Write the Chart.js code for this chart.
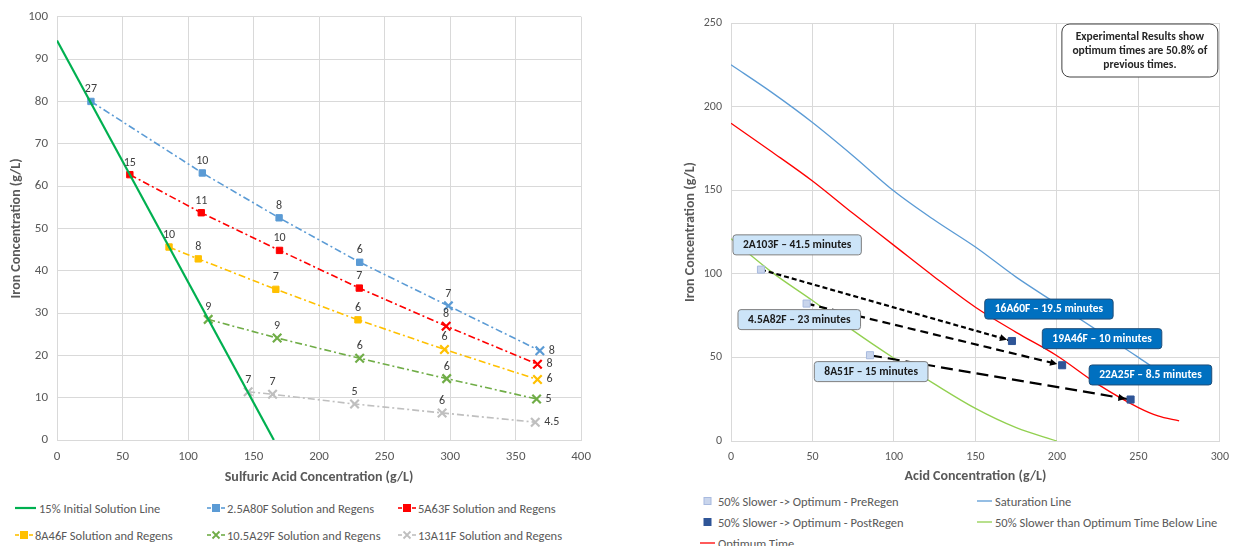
<!DOCTYPE html>
<html>
<head>
<meta charset="utf-8">
<script src="https://cdn.jsdelivr.net/npm/chart.js@4.4.1/dist/chart.umd.min.js"></script>
<style>
    body { margin: 0; background: #fff; width: 1238px; height: 546px; overflow: hidden; position: relative; font-family: Carlito, Lato, sans-serif; }
    .box { position: absolute; }
    .legend { position: absolute; left: 0; top: 0; font-size: 12.5px; color: #595959; }
    .legend .item { position: absolute; display: flex; align-items: center; white-space: nowrap; height: 16px; margin-top: -8px; }
    .legend svg { display: block; }
</style>
</head>
<body>
<div class="box" style="left:0;top:0;width:600px;height:492px"><canvas id="left_chart"></canvas></div>
<div class="box" style="left:680px;top:0;width:558px;height:492px"><canvas id="right_chart"></canvas></div>
<div id="left_legend" class="legend"></div>
<div id="right_legend" class="legend"></div>
<script>
    const FONT = 'Carlito, Lato, sans-serif';

    // ---- left chart data (sulfuric acid g/L vs iron g/L, labels = minutes) ----
    const init_x = [0, 165.5];
    const init_y = [94.4, 0];

    const a80_x = [25.9, 110.9, 169.5, 231, 298.7, 368.5];
    const a80_y = [80, 63.1, 52.5, 42.0, 31.7, 21.1];
    const a80_t = ['27', '10', '8', '6', '7', '8'];

    const a63_x = [55.6, 110.1, 169.8, 230.7, 297, 366.7];
    const a63_y = [62.7, 53.7, 44.8, 35.9, 26.9, 17.9];
    const a63_t = ['15', '11', '10', '7', '8', '8'];

    const a46_x = [85.5, 107.8, 167, 229.7, 295.7, 366.7];
    const a46_y = [45.6, 42.8, 35.6, 28.4, 21.4, 14.3];
    const a46_t = ['10', '8', '7', '6', '6', '6'];

    const a29_x = [115.4, 168, 231, 297.4, 366];
    const a29_y = [28.5, 24.1, 19.3, 14.5, 9.7];
    const a29_t = ['9', '9', '6', '6', '5'];

    const a11_x = [145.9, 164.5, 227.1, 293.9, 365];
    const a11_y = [11.4, 10.8, 8.5, 6.4, 4.2];
    const a11_t = ['7', '7', '5', '6', '4.5'];

    const left_x_ticks = [0, 50, 100, 150, 200, 250, 300, 350, 400];
    const left_y_ticks = [0, 10, 20, 30, 40, 50, 60, 70, 80, 90, 100];

    // ---- right chart data (acid g/L vs iron g/L) ----
    const sat_x = [0, 25, 50, 75, 100, 125, 150, 175, 200, 225, 250, 262];
    const sat_y = [225, 208.5, 190.5, 170.5, 149.5, 132, 116, 98, 82, 66, 50, 42];
    const opt_x = [0, 25, 50, 75, 100, 125, 150, 175, 200, 225, 250, 262, 275];
    const opt_y = [190, 173, 155.5, 136, 117, 98, 80, 65, 51, 34, 20, 15, 12];
    const slow_x = [0, 25, 50, 75, 100, 125, 150, 175, 200];
    const slow_y = [121, 101, 84, 66, 49.5, 34, 19.5, 8, 0];

    const pre_x = [18.4, 46.4, 85.3];
    const pre_y = [102.5, 82.2, 51.3];
    const post_x = [172.4, 203.2, 245.2];
    const post_y = [59.8, 45.3, 24.8];

    const pre_names = ['2A103F – 41.5 minutes', '4.5A82F – 23 minutes', '8A51F – 15 minutes'];
    const pre_name_x = [40.6, 41.9, 86.0];
    const pre_name_y = [117.3, 72.6, 41.5];
    const post_names = ['16A60F – 19.5 minutes', '19A46F – 10 minutes', '22A25F – 8.5 minutes'];
    const post_name_x = [195.1, 227.7, 257.4];
    const post_name_y = [78.9, 61.2, 39.5];

    const note_lines = ['Experimental Results show', 'optimum times are 50.8% of', 'previous times.'];

    const right_x_ticks = [0, 50, 100, 150, 200, 250, 300];
    const right_y_ticks = [0, 50, 100, 150, 200, 250];

    function xy(xs, ys) {
        return xs.map((x, i) => ({x: x, y: ys[i]}));
    }

    Chart.defaults.font.family = FONT;
    Chart.defaults.color = '#595959';

    function roundRect(ctx, x, y, w, h, r) {
        ctx.beginPath();
        ctx.moveTo(x + r, y);
        ctx.arcTo(x + w, y, x + w, y + h, r);
        ctx.arcTo(x + w, y + h, x, y + h, r);
        ctx.arcTo(x, y + h, x, y, r);
        ctx.arcTo(x, y, x + w, y, r);
        ctx.closePath();
    }

    // value labels next to the points of the left chart
    const pointLabelPlugin = {
        id: 'pointLabels',
        afterDatasetsDraw(chart) {
            const ctx = chart.ctx;
            ctx.save();
            ctx.font = '12px ' + FONT;
            ctx.fillStyle = '#404040';
            ctx.textBaseline = 'middle';
            chart.data.datasets.forEach((ds, i) => {
                if (!ds.pointLabels) return;
                const meta = chart.getDatasetMeta(i);
                meta.data.forEach((pt, j) => {
                    if (j === meta.data.length - 1) {
                        ctx.textAlign = 'left';
                        ctx.fillText(ds.pointLabels[j], pt.x + 9, pt.y);
                    } else {
                        ctx.textAlign = 'center';
                        ctx.fillText(ds.pointLabels[j], pt.x, pt.y - 12);
                    }
                });
            });
            ctx.restore();
        }
    };

    function dashSeries(label, xs, ys, tags, color, styles) {
        return {
            label: label,
            data: xy(xs, ys),
            pointLabels: tags,
            showLine: true,
            borderColor: color,
            backgroundColor: color,
            borderWidth: 1.6,
            borderDash: [7, 3, 2, 3],
            pointStyle: styles,
            pointRadius: styles.map(s => s === 'rect' ? 4.5 : 6),
            pointBorderWidth: styles.map(s => s === 'rect' ? 1 : 2.2),
            pointBorderColor: color,
            pointBackgroundColor: color,
            legendMarker: styles[0],
        };
    }

    const sq4x2 = ['rect', 'rect', 'rect', 'rect', 'crossRot', 'crossRot'];
    const allX = ['crossRot', 'crossRot', 'crossRot', 'crossRot', 'crossRot'];

    const left_datasets = [
        {
            label: '15% Initial Solution Line',
            data: xy(init_x, init_y),
            showLine: true,
            borderColor: '#00B050',
            borderWidth: 2.2,
            pointRadius: 0,
            legendMarker: null,
        },
        dashSeries('2.5A80F Solution and Regens', a80_x, a80_y, a80_t, '#5B9BD5', sq4x2),
        dashSeries('5A63F Solution and Regens', a63_x, a63_y, a63_t, '#FF0000', sq4x2),
        dashSeries('8A46F Solution and Regens', a46_x, a46_y, a46_t, '#FFC000', sq4x2),
        dashSeries('10.5A29F Solution and Regens', a29_x, a29_y, a29_t, '#70AD47', allX),
        dashSeries('13A11F Solution and Regens', a11_x, a11_y, a11_t, '#BFBFBF', allX),
    ];

    function axisOpts(ticks, titleText, size, titlePad, extra) {
        return Object.assign({
            type: 'linear',
            min: ticks[0],
            max: ticks[ticks.length - 1],
            afterBuildTicks: s => { s.ticks = ticks.map(v => ({value: v})); },
            grid: { color: '#D9D9D9', drawTicks: false, lineWidth: 1 },
            border: { color: '#D9D9D9' },
            ticks: { font: { size: size }, color: '#595959', padding: 9 },
            title: { display: true, text: titleText, color: '#595959', padding: titlePad, font: { size: 14, weight: 'bold' } },
        }, extra);
    }

    new Chart(document.getElementById('left_chart').getContext('2d'), {
        type: 'scatter',
        data: { datasets: left_datasets },
        options: {
            responsive: true,
            maintainAspectRatio: false,
            animation: false,
            layout: { padding: { top: 15, right: 18, left: 0, bottom: 0 } },
            plugins: { legend: { display: false }, tooltip: { enabled: false } },
            scales: {
                x: axisOpts(left_x_ticks, 'Sulfuric Acid Concentration (g/L)', 13, {top: 0, bottom: 6}, {
                    afterFit: s => { s.height = 52; },
                }),
                y: axisOpts(left_y_ticks, 'Iron Concentration (g/L)', 13, {top: 8.5, bottom: 0}, {
                    afterFit: s => { s.width = 57; },
                }),
            },
        },
        plugins: [pointLabelPlugin],
    });

    // ---- right chart ----
    const arrowDash = [[5, 3], [8, 5], [12, 6]];

    const arrowPlugin = {
        id: 'arrowHeads',
        afterDatasetDraw(chart, args) {
            const ds = chart.data.datasets[args.index];
            if (!ds.isArrow) return;
            const pts = args.meta.data;
            const a = pts[0], b = pts[pts.length - 1];
            const ang = Math.atan2(b.y - a.y, b.x - a.x);
            const tx = b.x - Math.cos(ang) * 5, ty = b.y - Math.sin(ang) * 5;
            const ctx = chart.ctx;
            ctx.save();
            ctx.fillStyle = '#000';
            ctx.beginPath();
            ctx.moveTo(tx, ty);
            ctx.lineTo(tx - Math.cos(ang - 0.45) * 8, ty - Math.sin(ang - 0.45) * 8);
            ctx.lineTo(tx - Math.cos(ang + 0.45) * 8, ty - Math.sin(ang + 0.45) * 8);
            ctx.closePath();
            ctx.fill();
            ctx.restore();
        }
    };

    function callout(chart, text, vx, vy, fill, stroke, color) {
        const ctx = chart.ctx;
        const cx = chart.scales.x.getPixelForValue(vx);
        const cy = chart.scales.y.getPixelForValue(vy);
        ctx.font = 'bold 11.5px ' + FONT;
        const w = ctx.measureText(text).width + 20, h = 20;
        roundRect(ctx, cx - w / 2, cy - h / 2, w, h, 3);
        ctx.fillStyle = fill;
        ctx.fill();
        ctx.lineWidth = 1;
        ctx.strokeStyle = stroke;
        ctx.stroke();
        ctx.fillStyle = color;
        ctx.textAlign = 'center';
        ctx.textBaseline = 'middle';
        ctx.fillText(text, cx, cy + 0.5);
    }

    const calloutPlugin = {
        id: 'callouts',
        afterDatasetsDraw(chart) {
            const ctx = chart.ctx;
            ctx.save();
            pre_names.forEach((t, i) => callout(chart, t, pre_name_x[i], pre_name_y[i], '#CCE4F8', '#7F7F7F', '#1a1a1a'));
            post_names.forEach((t, i) => callout(chart, t, post_name_x[i], post_name_y[i], '#0070C0', '#1F4E79', '#ffffff'));

            // note box in the top right corner
            const area = chart.chartArea;
            const bw = 156, bh = 53;
            const bx = area.right - bw - 2, by = area.top + 1;
            roundRect(ctx, bx, by, bw, bh, 8);
            ctx.fillStyle = '#fff';
            ctx.fill();
            ctx.strokeStyle = '#404040';
            ctx.lineWidth = 1;
            ctx.stroke();
            ctx.font = 'bold 11.5px ' + FONT;
            ctx.fillStyle = '#262626';
            ctx.textAlign = 'center';
            ctx.textBaseline = 'middle';
            note_lines.forEach((l, i) => ctx.fillText(l, bx + bw / 2, by + 13 + i * 14));
            ctx.restore();
        }
    };

    const right_datasets = [
        {
            label: '50% Slower -> Optimum - PreRegen',
            data: xy(pre_x, pre_y),
            pointStyle: 'rect',
            pointRadius: 5,
            pointBackgroundColor: '#C9D5EC',
            pointBorderColor: '#A8BADF',
            pointBorderWidth: 1,
            backgroundColor: '#C9D5EC',
            borderColor: '#A8BADF',
            order: 0,
            legendMarker: 'rect',
        },
        {
            label: '50% Slower -> Optimum - PostRegen',
            data: xy(post_x, post_y),
            pointStyle: 'rect',
            pointRadius: 5,
            pointBackgroundColor: '#2F5597',
            pointBorderColor: '#2F5597',
            backgroundColor: '#2F5597',
            borderColor: '#2F5597',
            order: 0,
            legendMarker: 'rect',
        },
        {
            label: 'Optimum Time',
            data: xy(opt_x, opt_y),
            showLine: true,
            borderColor: '#FF0000',
            borderWidth: 1.3,
            pointRadius: 0,
            cubicInterpolationMode: 'monotone',
            order: 2,
            legendMarker: null,
        },
        {
            label: 'Saturation Line',
            data: xy(sat_x, sat_y),
            showLine: true,
            borderColor: '#5B9BD5',
            borderWidth: 1.3,
            pointRadius: 0,
            cubicInterpolationMode: 'monotone',
            order: 2,
            legendMarker: null,
        },
        {
            label: '50% Slower than Optimum Time Below Line',
            data: xy(slow_x, slow_y),
            showLine: true,
            borderColor: '#92D050',
            borderWidth: 1.3,
            pointRadius: 0,
            cubicInterpolationMode: 'monotone',
            order: 2,
            legendMarker: null,
        },
    ];

    pre_x.forEach((x, i) => {
        right_datasets.push({
            label: '',
            isArrow: true,
            hideInLegend: true,
            data: [{x: pre_x[i], y: pre_y[i]}, {x: post_x[i], y: post_y[i]}],
            showLine: true,
            borderColor: '#000',
            borderWidth: 2.2,
            borderDash: arrowDash[i],
            pointRadius: 0,
            order: 1,
        });
    });

    new Chart(document.getElementById('right_chart').getContext('2d'), {
        type: 'scatter',
        data: { datasets: right_datasets },
        options: {
            responsive: true,
            maintainAspectRatio: false,
            animation: false,
            layout: { padding: { top: 23, right: 14, left: 0, bottom: 0 } },
            plugins: { legend: { display: false }, tooltip: { enabled: false } },
            scales: {
                x: axisOpts(right_x_ticks, 'Acid Concentration (g/L)', 12, {top: 0, bottom: 7.5}, {
                    afterFit: s => { s.height = 51; },
                }),
                y: axisOpts(right_y_ticks, 'Iron Concentration (g/L)', 12, {top: 2, bottom: 0}, {
                    afterFit: s => { s.width = 51; },
                }),
            },
        },
        plugins: [arrowPlugin, calloutPlugin],
    });

    // ---- html legends ----
    function icon(ds, w, withDash) {
        const c = ds.borderColor;
        let s = `<svg width="${w}" height="12">`;
        if (!ds.legendMarker) {
            s += `<line x1="0" y1="6" x2="${w - 2}" y2="6" stroke="${c}" stroke-width="${withDash ? 2.2 : 1.3}"/>`;
        } else {
            const m = withDash ? 9 : w / 2 - 1;
            if (withDash) {
                s += `<line x1="0" y1="6" x2="4" y2="6" stroke="${c}" stroke-width="1.6"/>`;
                s += `<line x1="14" y1="6" x2="18" y2="6" stroke="${c}" stroke-width="1.6"/>`;
            }
            if (ds.legendMarker === 'rect') {
                s += `<rect x="${m - 3.5}" y="2.5" width="7" height="7" fill="${ds.pointBackgroundColor || c}" stroke="${ds.pointBorderColor || c}" stroke-width="1"/>`;
            } else {
                s += `<path d="M${m - 3.5} 2.5 L${m + 3.5} 9.5 M${m + 3.5} 2.5 L${m - 3.5} 9.5" stroke="${c}" stroke-width="1.8"/>`;
            }
        }
        return s + '</svg>';
    }

    function legendItem(ds, left, top, w, withDash, gap) {
        return `<div class="item" style="left:${left}px;top:${top}px">${icon(ds, w, withDash)}<span style="margin-left:${gap}px">${ds.label}</span></div>`;
    }

    const left_cols = [15, 207, 398];
    const left_rows = [508, 535];
    let html = '';
    left_datasets.forEach((ds, i) => {
        const col = i % 3, row = Math.floor(i / 3);
        html += legendItem(ds, left_cols[col], left_rows[row], ds.legendMarker ? 19 : 23, true, 1);
    });
    document.getElementById('left_legend').innerHTML = html;

    const right_pos = [[700, 501], [700, 522], [700, 543], [977, 501], [977, 522]];
    html = '';
    right_datasets.filter(d => !d.hideInLegend).forEach((ds, i) => {
        html += legendItem(ds, right_pos[i][0], right_pos[i][1], 17, false, 1);
    });
    document.getElementById('right_legend').innerHTML = html;
</script>
</body>
</html>
